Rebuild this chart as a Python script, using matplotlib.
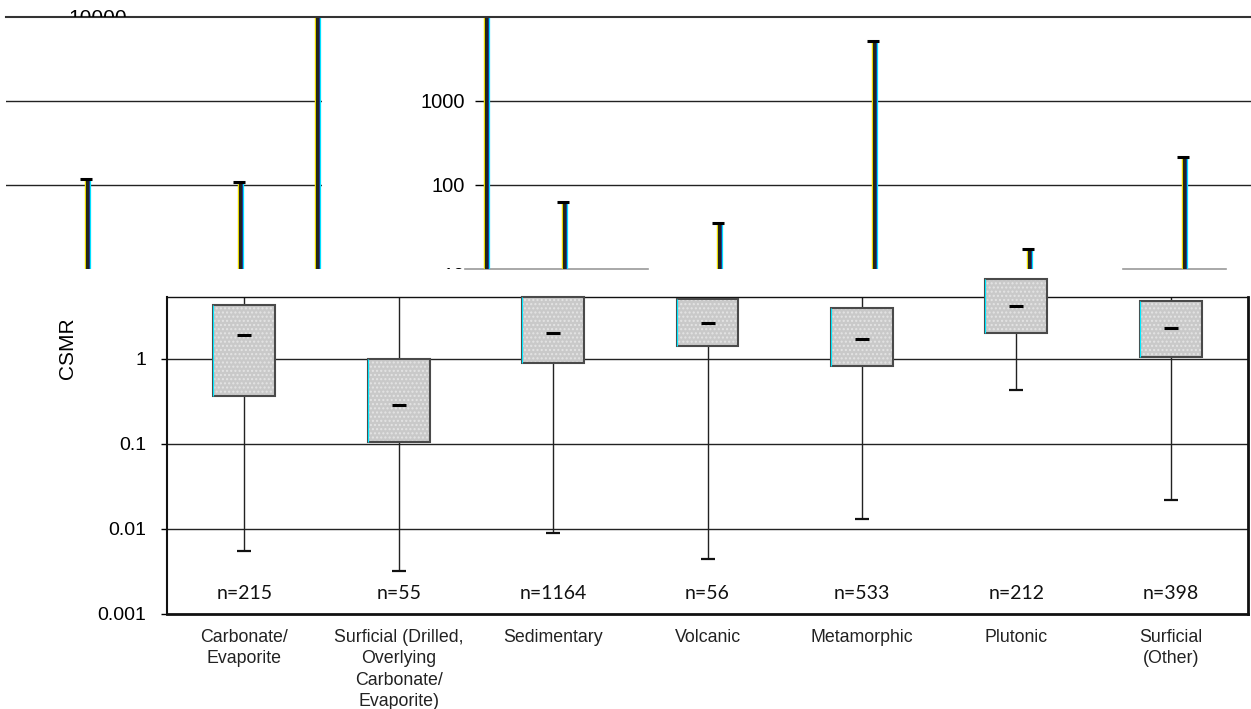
import matplotlib.pyplot as plt
from matplotlib.patches import Rectangle
from matplotlib.lines import Line2D
from matplotlib.transforms import Bbox, TransformedBbox, offset_copy, blended_transform_factory
from matplotlib.ticker import NullLocator

plt.rcParams['font.family'] = ['Liberation Sans', 'DejaVu Sans']

# rock types and box statistics (CSMR)
categories = ["Carbonate/\nEvaporite",
              "Surficial (Drilled,\nOverlying\nCarbonate/\nEvaporite)",
              "Sedimentary", "Volcanic", "Metamorphic", "Plutonic",
              "Surficial\n(Other)"]
n_counts = [215, 55, 1164, 56, 533, 212, 398]
q1 = [0.37, 0.105, 0.90, 1.42, 0.83, 2.02, 1.05]
q3 = [4.3, 1.0, 5.36, 5.1, 4.0, 8.7, 4.8]
medians = [1.92, 0.29, 2.02, 2.65, 1.72, 4.2, 2.3]
whisk_lo = [0.0055, 0.0032, 0.0090, 0.0044, 0.013, 0.43, 0.022]
whisk_hi = [110, 12000, 63, 35, 5190, 17.3, 213]

# upper whisker tops as they land in the two high-range strips
hi_left_pos = [-1, 0, 0.5]
hi_left_val = [118, 110, 12000]
hi_right_pos = [1.5, 2, 3, 4, 5, 6]
hi_right_val = [12000, 63, 35, 5190, 17.3, 213]

W, H = 1251, 709
fig = plt.figure(figsize=(W / 100, H / 100), dpi=100)


def px_axes(l, t, r, b):
    return fig.add_axes([l / W, 1 - b / H, (r - l) / W, (b - t) / H])


def clip_rows(top, bottom):
    return TransformedBbox(Bbox([[0, 1 - bottom / H], [1, 1 - top / H]]), fig.transFigure)


ax = px_axes(167, 297, 1248, 614)
ax_tl = px_axes(6, 17, 322, 269)
ax_tr = px_axes(483, 17, 1251, 269)

# ---- low range: boxes ----
pos = list(range(len(categories)))
ax.set_yscale('log')
ax.set_ylim(0.001, 5.36)
ax.set_xlim(-0.5, 6.5)
ax.yaxis.set_minor_locator(NullLocator())
for y in [0.01, 0.1, 1]:
    ax.axhline(y, color='#222222', lw=1, zorder=1)

bw = 0.4
ax.vlines(pos, whisk_lo, q1, color='#222222', lw=1, zorder=2)
ax.vlines(pos, q3, whisk_hi, color='#222222', lw=1, zorder=2)
ax.plot(pos, whisk_lo, ls='none', marker='_', ms=10, mew=1.6, color='#111111', zorder=2)
for i in pos:
    h = q3[i] - q1[i]
    ax.add_patch(Rectangle((i - bw / 2, q1[i]), bw, h, fc='#c9c9c9', lw=0,
                           zorder=3, clip_on=False))
    ax.add_patch(Rectangle((i - bw / 2, q1[i]), bw, h, fc='none', ec='#e4e4e4',
                           hatch='....', lw=0, zorder=3.1, clip_on=False))
    ax.add_patch(Rectangle((i - bw / 2, q1[i]), bw, h, fc='none', ec='#4a4a4a',
                           lw=1.5, zorder=3.2, clip_on=False))
ax.vlines([p - bw / 2 for p in pos], q1, q3, color='#00e8ff', lw=0.8, zorder=3.3,
          clip_on=False)
ax.plot(pos, medians, ls='none', marker='_', ms=10, mew=2.2, color='black', zorder=4)

ntr = blended_transform_factory(ax.transData, ax.transAxes)
for i, n in enumerate(n_counts):
    ax.text(i, 0.066, f"n={n}", transform=ntr, ha='center', va='center',
            fontsize=14, family=['Lato', 'DejaVu Sans'], color='#111111')

ax.set_yticks([0.001, 0.01, 0.1, 1])
ax.set_yticklabels(['0.001', '0.01', '0.1', '1'])
ax.tick_params(axis='y', length=4, width=1, pad=11, labelsize=14)
ax.set_xticks(pos)
ax.set_xticklabels(categories, fontsize=12.8, color='#222222', linespacing=1.32,
                   multialignment='center')
ax.tick_params(axis='x', length=0, pad=11)
ax.set_ylabel('CSMR', fontsize=15)
ax.yaxis.set_label_coords(-0.083, 0.84)
ax.spines['left'].set_linewidth(1.5)
ax.spines['bottom'].set_linewidth(2)
ax.spines['right'].set_linewidth(2)
ax.spines['top'].set_linewidth(1)
for s in ax.spines.values():
    s.set_color('#111111')

# ---- high range strips ----
for a in (ax_tl, ax_tr):
    a.set_yscale('log')
    a.set_ylim(10, 10000)
    a.yaxis.set_minor_locator(NullLocator())
    a.set_xticks([])
    for s in a.spines.values():
        s.set_visible(False)
    for y in [100, 1000]:
        a.axhline(y, color='#222222', lw=1, zorder=1)

ax_tl.set_xlim(-1.526, 0.526)
ax_tl.set_yticks([])
ax_tr.set_xlim(1.477, 6.43)
ax_tr.set_yticks([100, 1000])
ax_tr.set_yticklabels(['100', '1000'])
ax_tr.tick_params(axis='y', length=6, width=1, pad=7, labelsize=14.5)
ax_tr.axhline(10, xmin=-18 / 768, xmax=165 / 768, color='#9a9a9a', lw=1.2, clip_on=False)
ax_tr.axhline(10, xmin=640 / 768, xmax=743 / 768, color='#9a9a9a', lw=1.2, clip_on=False)

stripes = [(-2.5, '#f0e000', 1.0), (-0.5, '#25251a', 2.2), (1.5, '#20208a', 0.8),
           (2.5, '#00e0ff', 0.9)]
for a, xs, vals in [(ax_tl, hi_left_pos, hi_left_val), (ax_tr, hi_right_pos, hi_right_val)]:
    base = a.get_ylim()[0]
    for dx, col, lw in stripes:
        tr = offset_copy(a.transData, fig=fig, x=dx, y=0, units='dots')
        a.vlines(xs, base, vals, color=col, lw=lw, transform=tr, zorder=3)
    tr = offset_copy(a.transData, fig=fig, x=-1.5, y=0, units='dots')
    a.plot(xs, vals, ls='none', marker='_', ms=9, mew=2.2, color='black',
           transform=tr, zorder=4)

fig.add_artist(Line2D([6 / W, 1], [1 - 17 / H] * 2, color='#333333', lw=1.5))

t = fig.text(127 / W, 1 - 18 / H, '10000', ha='right', va='center', fontsize=15)
t.set_clip_box(clip_rows(0, 17))
t = fig.text(465 / W, 1 - 276 / H, '10', ha='right', va='center', fontsize=14.5)
t.set_clip_box(clip_rows(0, 269))

fig.savefig('out.png', dpi=100)
